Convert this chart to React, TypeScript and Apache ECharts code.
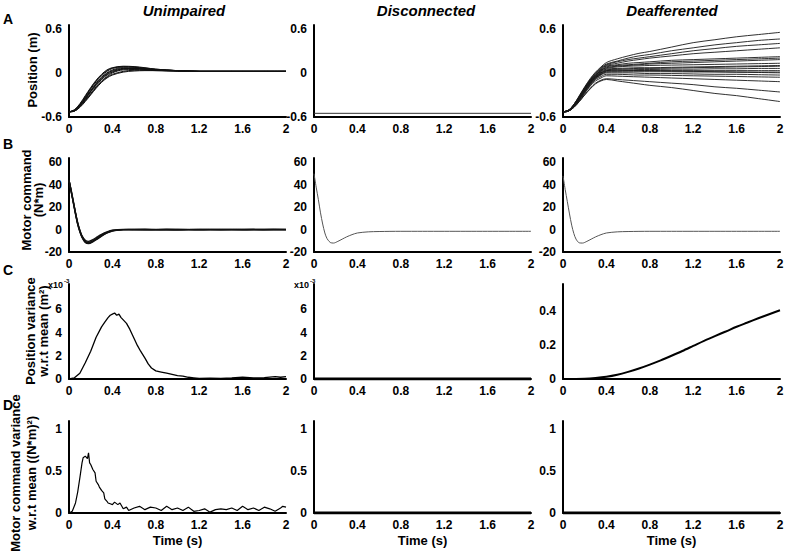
import React, { useEffect, useRef } from 'react';
import * as echarts from 'echarts';

const FONT = '"Liberation Sans", Arial, Helvetica, sans-serif';

// ---------- categories / tick labels ----------
const columnTitles = ['Unimpaired', 'Disconnected', 'Deafferented'];
const panelLetters = ['A', 'B', 'C', 'D'];
const xTicks = [0, 0.4, 0.8, 1.2, 1.6, 2];
const posTicks = [-0.6, 0, 0.6];
const motTicks = [-20, 0, 20, 40, 60];
const varPosTicksSmall = [0, 2, 4, 6]; // x10^-3
const varPosTicksLarge = [0, 0.2, 0.4];
const varMotTicks = [0, 0.5, 1];

// ---------- Row A: position (m) ----------
const tPos = [0, 0.05, 0.1, 0.15, 0.2, 0.25, 0.3, 0.35, 0.4, 0.5, 0.6, 0.7, 0.8, 1.0, 1.2, 1.4, 1.6, 1.8, 2.0];
const posUnimpaired = [
  [-0.53, -0.5, -0.42, -0.31, -0.2, -0.1, -0.02, 0.04, 0.07, 0.09, 0.085, 0.07, 0.05, 0.03, 0.02, 0.02, 0.02, 0.02, 0.02],
  [-0.53, -0.51, -0.43, -0.33, -0.22, -0.12, -0.04, 0.02, 0.06, 0.08, 0.075, 0.06, 0.045, 0.03, 0.02, 0.02, 0.02, 0.02, 0.02],
  [-0.53, -0.51, -0.44, -0.34, -0.24, -0.14, -0.06, 0.0, 0.04, 0.07, 0.065, 0.055, 0.04, 0.03, 0.02, 0.02, 0.02, 0.02, 0.02],
  [-0.53, -0.51, -0.44, -0.35, -0.25, -0.15, -0.07, -0.01, 0.03, 0.06, 0.06, 0.05, 0.04, 0.03, 0.02, 0.02, 0.02, 0.02, 0.02],
  [-0.53, -0.51, -0.45, -0.36, -0.26, -0.17, -0.09, -0.03, 0.01, 0.05, 0.055, 0.045, 0.035, 0.025, 0.02, 0.02, 0.02, 0.02, 0.02],
  [-0.53, -0.52, -0.46, -0.37, -0.28, -0.19, -0.11, -0.05, 0.0, 0.04, 0.045, 0.04, 0.035, 0.025, 0.02, 0.02, 0.02, 0.02, 0.02],
  [-0.53, -0.52, -0.46, -0.38, -0.29, -0.2, -0.12, -0.06, -0.02, 0.02, 0.035, 0.035, 0.03, 0.025, 0.02, 0.02, 0.02, 0.02, 0.02],
  [-0.53, -0.52, -0.47, -0.39, -0.3, -0.21, -0.13, -0.07, -0.03, 0.01, 0.025, 0.03, 0.03, 0.025, 0.02, 0.02, 0.02, 0.02, 0.02],
  [-0.53, -0.51, -0.43, -0.32, -0.21, -0.11, -0.03, 0.03, 0.065, 0.085, 0.08, 0.065, 0.05, 0.03, 0.02, 0.02, 0.02, 0.02, 0.02],
  [-0.53, -0.51, -0.45, -0.35, -0.25, -0.16, -0.08, -0.02, 0.02, 0.055, 0.06, 0.05, 0.04, 0.03, 0.02, 0.02, 0.02, 0.02, 0.02],
];
const tFlat = [0, 2];
const posDisconnected = [-0.55, -0.55];
const posDeafferented = [
  [-0.53, -0.51, -0.43, -0.31, -0.19, -0.08, 0.01, 0.08, 0.14, 0.19, 0.23, 0.265, 0.29, 0.35, 0.41, 0.45, 0.49, 0.52, 0.55],
  [-0.53, -0.51, -0.43, -0.32, -0.2, -0.09, 0.0, 0.07, 0.12, 0.16, 0.2, 0.23, 0.25, 0.3, 0.34, 0.38, 0.41, 0.44, 0.46],
  [-0.53, -0.51, -0.43, -0.32, -0.2, -0.1, -0.01, 0.06, 0.11, 0.15, 0.18, 0.2, 0.22, 0.26, 0.3, 0.33, 0.36, 0.38, 0.4],
  [-0.53, -0.51, -0.44, -0.33, -0.21, -0.1, -0.02, 0.05, 0.1, 0.13, 0.16, 0.18, 0.2, 0.23, 0.26, 0.28, 0.3, 0.32, 0.34],
  [-0.53, -0.51, -0.44, -0.33, -0.21, -0.11, -0.03, 0.04, 0.09, 0.11, 0.13, 0.14, 0.15, 0.17, 0.18, 0.19, 0.2, 0.21, 0.22],
  [-0.53, -0.51, -0.44, -0.33, -0.22, -0.11, -0.03, 0.03, 0.08, 0.1, 0.11, 0.12, 0.13, 0.15, 0.16, 0.17, 0.18, 0.19, 0.2],
  [-0.53, -0.51, -0.44, -0.34, -0.22, -0.12, -0.04, 0.03, 0.07, 0.09, 0.1, 0.11, 0.12, 0.13, 0.14, 0.15, 0.16, 0.17, 0.18],
  [-0.53, -0.51, -0.44, -0.34, -0.23, -0.12, -0.04, 0.02, 0.06, 0.08, 0.09, 0.095, 0.1, 0.105, 0.11, 0.115, 0.12, 0.125, 0.13],
  [-0.53, -0.51, -0.44, -0.34, -0.23, -0.13, -0.05, 0.01, 0.05, 0.06, 0.065, 0.07, 0.07, 0.075, 0.08, 0.085, 0.09, 0.095, 0.1],
  [-0.53, -0.51, -0.45, -0.35, -0.24, -0.13, -0.05, 0.0, 0.04, 0.05, 0.055, 0.06, 0.06, 0.065, 0.07, 0.075, 0.08, 0.085, 0.09],
  [-0.53, -0.51, -0.45, -0.35, -0.24, -0.14, -0.06, 0.0, 0.03, 0.04, 0.04, 0.045, 0.045, 0.05, 0.05, 0.055, 0.055, 0.06, 0.06],
  [-0.53, -0.52, -0.45, -0.35, -0.24, -0.14, -0.06, -0.01, 0.03, 0.035, 0.035, 0.03, 0.03, 0.025, 0.02, 0.015, 0.01, 0.005, 0.0],
  [-0.53, -0.52, -0.45, -0.36, -0.25, -0.15, -0.07, -0.02, 0.02, 0.025, 0.03, 0.03, 0.03, 0.03, 0.03, 0.03, 0.03, 0.03, 0.03],
  [-0.53, -0.52, -0.45, -0.36, -0.25, -0.15, -0.07, -0.02, 0.01, 0.015, 0.015, 0.015, 0.015, 0.015, 0.012, 0.012, 0.01, 0.01, 0.01],
  [-0.53, -0.52, -0.46, -0.37, -0.26, -0.16, -0.08, -0.03, 0.0, 0.0, 0.0, -0.005, -0.01, -0.01, -0.015, -0.02, -0.02, -0.025, -0.03],
  [-0.53, -0.52, -0.46, -0.37, -0.27, -0.17, -0.09, -0.05, -0.02, -0.02, -0.025, -0.03, -0.03, -0.035, -0.04, -0.045, -0.05, -0.055, -0.06],
  [-0.53, -0.52, -0.46, -0.38, -0.28, -0.18, -0.11, -0.07, -0.04, -0.045, -0.05, -0.055, -0.06, -0.07, -0.08, -0.09, -0.1, -0.11, -0.12],
  [-0.53, -0.52, -0.47, -0.39, -0.3, -0.21, -0.14, -0.1, -0.08, -0.09, -0.1, -0.11, -0.12, -0.14, -0.16, -0.19, -0.21, -0.235, -0.26],
  [-0.53, -0.52, -0.47, -0.39, -0.3, -0.22, -0.15, -0.11, -0.09, -0.11, -0.13, -0.15, -0.17, -0.2, -0.24, -0.28, -0.31, -0.35, -0.39],
];

// ---------- Row B: motor command (N*m) ----------
const tMot = [0, 0.02, 0.04, 0.06, 0.08, 0.1, 0.12, 0.15, 0.18, 0.22, 0.26, 0.3, 0.35, 0.4, 0.5, 0.6, 0.8, 1.0, 1.2, 1.4, 1.6, 1.8, 2.0];
const motUnimpaired = [
  [44, 35, 25, 15, 6, -1, -6, -10.5, -11.5, -10, -7.5, -5, -2.5, -0.8, 0, 0.2, -0.1, 0.2, 0, 0.1, -0.1, 0.2, 0],
  [44, 34, 24, 14, 5, -2, -7, -11.5, -12.5, -11, -8.5, -5.8, -3, -1.2, -0.2, 0, 0.2, -0.1, 0.1, 0, 0.2, -0.1, 0.1],
  [44, 35, 25, 15, 6, -0.5, -5.5, -9.5, -10.5, -9, -6.5, -4.2, -2, -0.5, 0.2, -0.1, 0, 0.1, -0.2, 0.1, 0, 0, 0.2],
  [44, 34, 24, 14, 5, -1.5, -6.5, -11, -12, -10.5, -8, -5.5, -2.8, -1, 0, 0.1, 0, -0.2, 0.1, -0.1, 0.1, 0.1, -0.1],
];
const motDisconnected = [50, 38, 27, 15, 5, -3, -8, -11.5, -12, -10.5, -8.5, -6.5, -4.5, -3, -2, -1.7, -1.5, -1.5, -1.5, -1.5, -1.5, -1.5, -1.5];
const motDeafferented = [48, 36, 25, 14, 4, -3.5, -8.5, -11.8, -12, -10.5, -8.5, -6.5, -4.5, -3, -2, -1.7, -1.5, -1.5, -1.5, -1.5, -1.5, -1.5, -1.5];

// ---------- Row C: position variance w.r.t mean ----------
const tVarPos = [0, 0.05, 0.1, 0.15, 0.2, 0.25, 0.3, 0.33, 0.36, 0.38, 0.4, 0.42, 0.44, 0.46, 0.48, 0.5, 0.53, 0.56, 0.6, 0.63, 0.66, 0.7, 0.73, 0.76, 0.8, 0.85, 0.9, 0.95, 1.0, 1.05, 1.1, 1.15, 1.2, 1.3, 1.4, 1.5, 1.6, 1.7, 1.8, 1.9, 1.95, 2.0];
const varPosUnimpaired = [0, 0.1, 0.5, 1.4, 2.4, 3.6, 4.5, 4.9, 5.3, 5.5, 5.6, 5.7, 5.5, 5.6, 5.3, 5.1, 4.8, 4.3, 3.5, 2.9, 2.4, 1.8, 1.3, 0.95, 0.7, 0.6, 0.5, 0.4, 0.3, 0.25, 0.15, 0.1, 0.05, 0.08, 0.06, 0.1, 0.15, 0.1, 0.12, 0.2, 0.15, 0.2]; // x10^-3
const varPosDisconnected = [0, 0]; // x10^-3
const tVarDeaf = [0, 0.2, 0.3, 0.4, 0.5, 0.6, 0.7, 0.8, 0.9, 1.0, 1.1, 1.2, 1.3, 1.4, 1.5, 1.6, 1.7, 1.8, 1.9, 2.0];
const varPosDeafferented = [0, 0.002, 0.006, 0.013, 0.025, 0.042, 0.062, 0.085, 0.11, 0.137, 0.165, 0.195, 0.225, 0.253, 0.28, 0.308, 0.333, 0.358, 0.382, 0.405];

// ---------- Row D: motor command variance w.r.t mean ----------
const tVarMot = [0, 0.03, 0.06, 0.08, 0.1, 0.12, 0.13, 0.15, 0.17, 0.18, 0.19, 0.2, 0.22, 0.24, 0.25, 0.27, 0.28, 0.3, 0.32, 0.33, 0.35, 0.36, 0.38, 0.4, 0.42, 0.45, 0.47, 0.5, 0.53, 0.55, 0.6, 0.65, 0.7, 0.75, 0.8, 0.85, 0.9, 0.95, 1.0, 1.05, 1.1, 1.15, 1.2, 1.25, 1.3, 1.35, 1.4, 1.45, 1.5, 1.55, 1.6, 1.65, 1.7, 1.75, 1.8, 1.85, 1.9, 1.95, 1.97, 2.0];
const varMotUnimpaired = [0, 0.02, 0.12, 0.25, 0.42, 0.6, 0.66, 0.68, 0.65, 0.72, 0.6, 0.58, 0.52, 0.48, 0.38, 0.34, 0.31, 0.27, 0.24, 0.17, 0.14, 0.12, 0.11, 0.1, 0.13, 0.1, 0.12, 0.05, 0.07, 0.03, 0.06, 0.08, 0.04, 0.07, 0.06, 0.03, 0.08, 0.04, 0.06, 0.03, 0.07, 0.02, 0.03, 0.05, 0.01, 0.04, 0.05, 0.04, 0.06, 0.03, 0.08, 0.04, 0.06, 0.03, 0.07, 0.05, 0.02, 0.06, 0.08, 0.07];
const varMotDisconnected = [0, 0];
const varMotDeafferented = [0, 0];

const pairs = (t: number[], v: number[]) => t.map((x, i) => [x, v[i]]);
const near = (list: number[], v: number) => list.some((t) => Math.abs(t - v) < 1e-6);
const fmtNum = (v: number) => String(Number(v.toFixed(3)));

export default function App() {
  const ref = useRef<HTMLDivElement>(null);
  useEffect(() => {
    document.body.style.margin = '0';
    const chart = echarts.init(ref.current as HTMLDivElement, null, { renderer: 'svg' });

    const colLeft = [69, 314, 563];
    const colW = 217;
    const rowTop = [25, 158, 284, 421];
    const rowH = [92, 94, 95, 92];

    // y config per [row][col]
    const yCfg = [
      [0, 1, 2].map(() => ({ min: -0.6, max: 0.65, interval: 0.6, ticks: posTicks })),
      [0, 1, 2].map(() => ({ min: -20, max: 64, interval: 20, ticks: motTicks })),
      [
        { min: 0, max: 8.2, interval: 2, ticks: varPosTicksSmall },
        { min: 0, max: 8.2, interval: 2, ticks: varPosTicksSmall },
        { min: 0, max: 0.56, interval: 0.2, ticks: varPosTicksLarge },
      ],
      [0, 1, 2].map(() => ({ min: 0, max: 1.1, interval: 0.5, ticks: varMotTicks })),
    ];

    const grids: any[] = [];
    const xAxes: any[] = [];
    const yAxes: any[] = [];
    const series: any[] = [];

    const labelStyle = { color: '#000', fontFamily: FONT, fontWeight: 'bold', fontSize: 12 };

    for (let r = 0; r < 4; r++) {
      for (let c = 0; c < 3; c++) {
        const cfg = yCfg[r][c];
        grids.push({ left: colLeft[c], top: rowTop[r], width: colW, height: rowH[r], containLabel: false, outerBoundsMode: 'none' });
        xAxes.push({
          type: 'value', gridIndex: r * 3 + c, min: 0, max: 2, interval: 0.4,
          axisLine: { onZero: false, lineStyle: { color: '#000', width: 2 } },
          axisTick: { show: false }, splitLine: { show: false },
          axisLabel: { ...labelStyle, margin: 6, formatter: (v: number) => (near(xTicks, v) ? fmtNum(v) : '') },
        });
        yAxes.push({
          type: 'value', gridIndex: r * 3 + c, min: cfg.min, max: cfg.max, interval: cfg.interval,
          axisLine: { show: true, onZero: false, lineStyle: { color: '#000', width: 2 } },
          axisTick: { show: false }, splitLine: { show: false },
          axisLabel: { ...labelStyle, margin: 7, formatter: (v: number) => (near(cfg.ticks, v) ? fmtNum(v) : '') },
        });
      }
    }

    const addLine = (idx: number, data: number[][], color: string, width: number, smooth: boolean | number) => {
      series.push({
        type: 'line', xAxisIndex: idx, yAxisIndex: idx, data, showSymbol: false, symbol: 'none',
        smooth, silent: true, clip: true, lineStyle: { color, width }, emphasis: { disabled: true },
      });
    };

    // Row A
    posUnimpaired.forEach((tr) => addLine(0, pairs(tPos, tr), '#111', 1, 0.35));
    addLine(1, pairs(tFlat, posDisconnected), '#333', 1, false);
    posDeafferented.forEach((tr) => addLine(2, pairs(tPos, tr), '#1a1a1a', 0.9, 0.35));
    // Row B
    motUnimpaired.forEach((tr) => addLine(3, pairs(tMot, tr), '#111', 1.4, 0.3));
    addLine(4, pairs(tMot, motDisconnected), '#555', 1, 0.3);
    addLine(5, pairs(tMot, motDeafferented), '#555', 1, 0.3);
    // Row C
    addLine(6, pairs(tVarPos, varPosUnimpaired), '#000', 1.3, false);
    addLine(7, pairs(tFlat, varPosDisconnected), '#000', 3, false);
    addLine(8, pairs(tVarDeaf, varPosDeafferented), '#000', 2, 0.3);
    // Row D
    addLine(9, pairs(tVarMot, varMotUnimpaired), '#000', 1.2, false);
    addLine(10, pairs(tFlat, varMotDisconnected), '#000', 3, false);
    addLine(11, pairs(tFlat, varMotDeafferented), '#000', 3, false);

    const txt = (text: string, x: number, y: number, size: number, opts: any = {}) => ({
      type: 'text', x, y, rotation: opts.rotation || 0, silent: true,
      style: {
        text, fill: '#000', fontFamily: FONT, fontSize: size, fontWeight: opts.weight || 'bold',
        fontStyle: opts.italic ? 'italic' : 'normal',
        align: opts.align || 'center', verticalAlign: 'middle',
        textAlign: opts.align || 'center', textVerticalAlign: 'middle',
      },
    });

    const graphics: any[] = [];
    const titleX = [184, 426, 672];
    columnTitles.forEach((t, i) => graphics.push(txt(t, titleX[i], 10, 15, { italic: true })));
    const letterY = [19, 144, 270, 405];
    panelLetters.forEach((l, i) => graphics.push(txt(l, 3, letterY[i], 14, { align: 'left' })));
    const rot = Math.PI / 2;
    graphics.push(txt('Position (m)', 32, 70, 13, { rotation: rot }));
    graphics.push(txt('Motor command', 26, 200, 13, { rotation: rot }));
    graphics.push(txt('(N*m)', 38, 200, 13, { rotation: rot }));
    graphics.push(txt('Position variance', 30, 331, 13, { rotation: rot }));
    graphics.push(txt('w.r.t mean (m²)', 43, 331, 13, { rotation: rot }));
    graphics.push(txt('Motor command variance', 15, 473, 13, { rotation: rot }));
    graphics.push(txt('w.r.t mean ((N*m)²)', 31, 473, 13, { rotation: rot }));
    [0, 1, 2].forEach((c) => graphics.push(txt('Time (s)', colLeft[c] + colW / 2, 540, 13)));
    // x10^-3 multipliers
    graphics.push(txt('x10', 48, 285, 9, { align: 'left' }));
    graphics.push(txt('-3', 64, 281, 6, { align: 'left' }));
    graphics.push(txt('x10', 294, 285, 9, { align: 'left' }));
    graphics.push(txt('-3', 310, 281, 6, { align: 'left' }));

    chart.setOption({
      animation: false,
      backgroundColor: '#fff',
      grid: grids,
      xAxis: xAxes,
      yAxis: yAxes,
      series,
      graphic: graphics,
    });
    return () => chart.dispose();
  }, []);
  return <div ref={ref} style={{ width: 787, height: 551 }} />;
}
